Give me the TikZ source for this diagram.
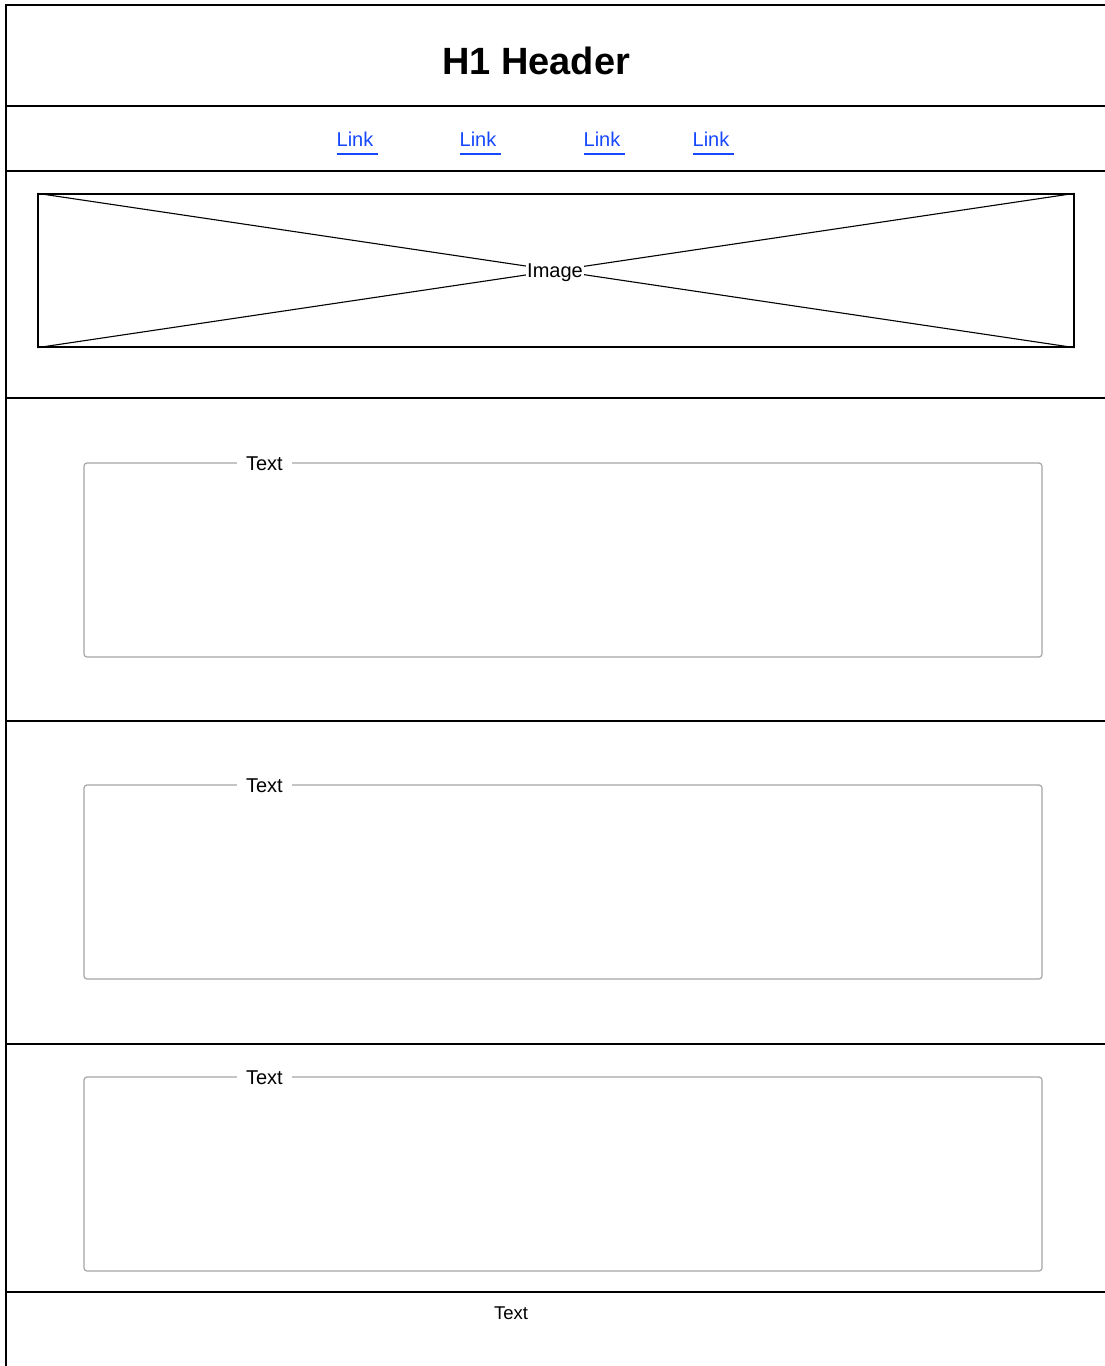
\documentclass[tikz,border=0pt]{standalone}
\usepackage{fontspec}
\setmainfont{Liberation Sans}
\usetikzlibrary{positioning}
\definecolor{linkblue}{RGB}{22,72,255}
\definecolor{boxgray}{RGB}{165,165,165}

\begin{document}
\begin{tikzpicture}[x=1pt, y=-1pt,
    every node/.style={font=\fontsize{20}{24}\selectfont},
    divider/.style={line width=2.8pt},
    linktext/.style={text=linkblue, inner sep=0pt, anchor=base},
    imgbox/.style={draw, line width=1.3pt, minimum width=1036pt, minimum height=153pt, inner sep=0pt},
    textbox/.style={draw=boxgray, line width=1.2pt, rounded corners=3pt, minimum width=958pt, minimum height=194pt, inner sep=0pt},
    boxlabel/.style={fill=white, inner xsep=9pt, inner ysep=1pt}]

  \useasboundingbox (0,0) rectangle (1105,1366);

  % Outer frame
  \draw[line width=1.8pt] (1105,5) -- (6,5) -- (6,1366);
  \foreach \y in {106, 171, 398, 721, 1044, 1292}
    \draw[divider] (6,\y) -- (1105,\y);

  % Header
  \node[anchor=base, font=\fontsize{38}{44}\selectfont\bfseries] (header) at (536,74) {H1 Header};

  % Navigation links
  \foreach \x [count=\i] in {355, 478, 602, 711} {
    \node[linktext] (link\i) at (\x,146) {Link};
    \draw[linkblue, line width=1.4pt] ([xshift=1pt, yshift=-8pt]link\i.base west) -- ([xshift=4pt, yshift=-8pt]link\i.base east);
  }

  % Image placeholder
  \node[imgbox] (img) at (556,270.5) {};
  \draw[line width=1.1pt] (img.north west) -- (img.south east);
  \draw[line width=1.1pt] (img.south west) -- (img.north east);
  \node[fill=white, inner sep=1pt, anchor=base] (imglabel) at (555,277) {Image};

  % Text sections
  \foreach \y [count=\i] in {560, 882, 1174} {
    \node[textbox] (text\i) at (563,\y) {};
    \node[boxlabel] (label\i) at ([xshift=181pt, yshift=-1pt]text\i.north west) {Text};
  }

  % Footer
  \node[font=\fontsize{18.5}{22}\selectfont] (footer) at (511,1313) {Text};
\end{tikzpicture}
\end{document}
